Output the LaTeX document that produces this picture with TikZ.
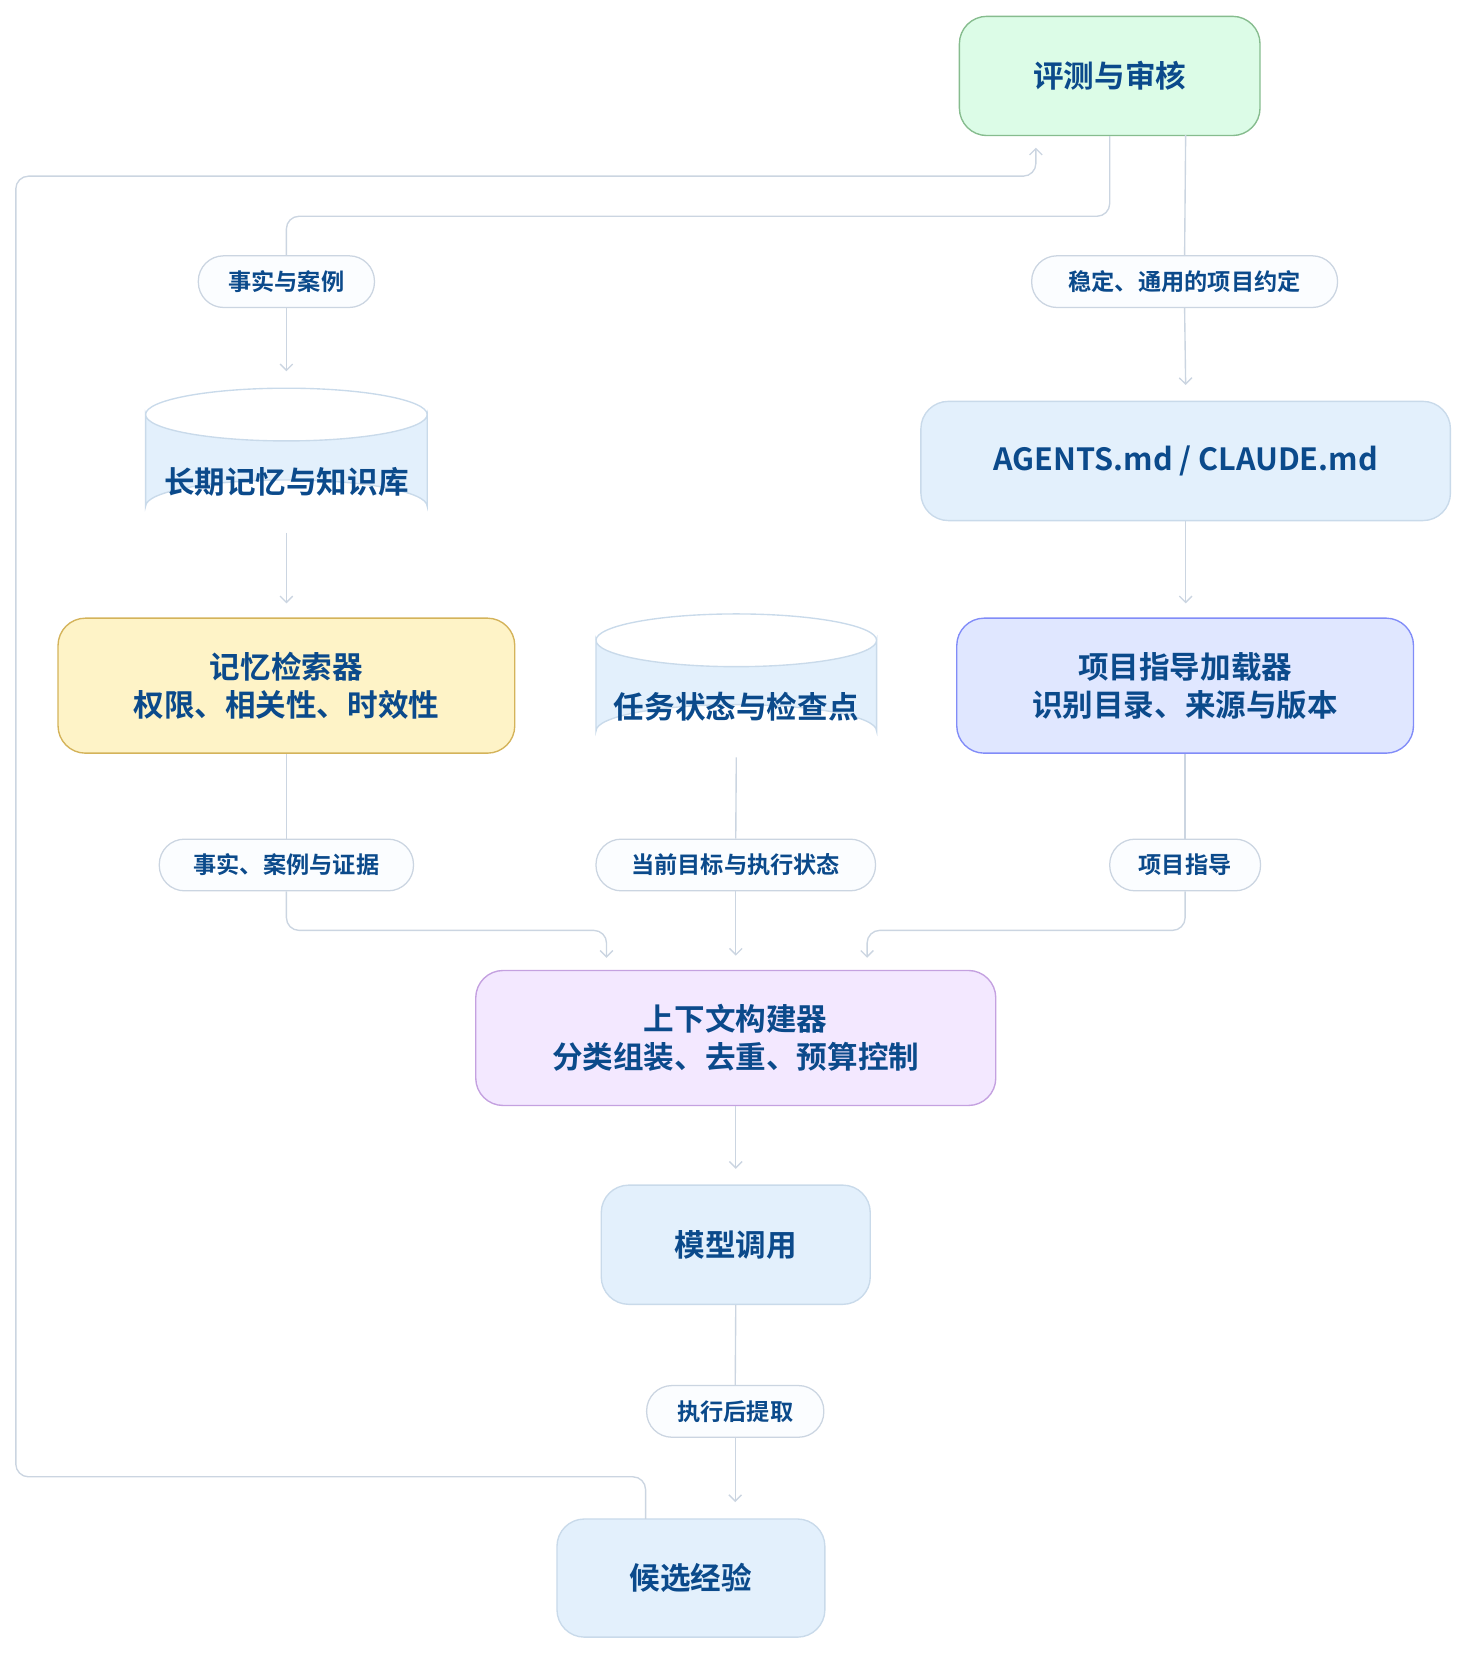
\documentclass[tikz,border=0pt]{standalone}
\usepackage{fontspec}
\setmainfont{Noto Sans CJK SC}[BoldFont={* Bold}]
\usetikzlibrary{arrows.meta}
\definecolor{edge}{HTML}{CBD5E1}
\definecolor{txt}{HTML}{0B4A8B}
\definecolor{bfill}{HTML}{E3F0FC}
\definecolor{bline}{HTML}{C9DAEA}
\tikzset{
  box/.style={draw=bline, fill=bfill, line width=1.3pt, rounded corners=26pt, font=\fontsize{29}{36}\selectfont\bfseries, text=txt, align=center, inner sep=0pt},
  lab/.style={draw=edge, fill=white!85!bfill, line width=1.2pt, rounded corners=24pt, minimum height=49pt, font=\fontsize{22}{26}\selectfont\bfseries, text=txt, inner sep=0pt},
  ed/.style={draw=edge, line width=1.3pt, rounded corners=12pt},
  ar/.style={ed, -{Straight Barb[length=6pt,width=12pt,line width=1.3pt]}},
  ttl/.style={font=\fontsize{29}{36}\selectfont\bfseries, text=txt, align=center}
}
\newcommand{\cyl}[5]{% left right top bottom ry
  \filldraw[draw=bline, fill=bfill, line width=1.3pt] (#1,#3+#5) -- (#1,#4-#5) arc[start angle=180,end angle=360,x radius={(#2-#1)/2},y radius=#5] -- (#2,#3+#5) arc[start angle=0,end angle=180,x radius={(#2-#1)/2},y radius=#5] -- cycle;
  \draw[draw=bline, line width=1.3pt] (#1,#3+#5) arc[start angle=180,end angle=360,x radius={(#2-#1)/2},y radius=#5];
}
\begin{document}
\begin{tikzpicture}[x=1pt,y=-1pt]
\useasboundingbox (0,0) rectangle (1390,1568);
% nodes
\node[box, draw=green!50!gray!70, draw={rgb,255:red,134;green,188;blue,142}, fill={rgb,255:red,220;green,252;blue,231}, minimum width=285pt, minimum height=113pt] (eval) at (1052,72) {评测与审核};
\node[box, minimum width=502pt, minimum height=113pt] (agents) at (1124,437) {AGENTS.md / CLAUDE.md};
\node[box, draw={rgb,255:red,212;green,179;blue,90}, fill={rgb,255:red,254;green,243;blue,199}, minimum width=433pt, minimum height=128pt] (ret) at (271.5,650) {记忆检索器\\权限、相关性、时效性};
\node[box, draw={rgb,255:red,129;green,140;blue,248}, fill={rgb,255:red,224;green,231;blue,255}, minimum width=433pt, minimum height=128pt] (load) at (1123.5,650) {项目指导加载器\\识别目录、来源与版本};
\node[box, draw={rgb,255:red,196;green,161;blue,224}, fill={rgb,255:red,243;green,232;blue,255}, minimum width=493pt, minimum height=128pt] (ctx) at (697.5,984) {上下文构建器\\分类组装、去重、预算控制};
\node[box, minimum width=255pt, minimum height=113pt] (model) at (697.5,1180) {模型调用};
\node[box, minimum width=254pt, minimum height=112pt] (cand) at (655,1496) {候选经验};
% cylinders
\cyl{138}{405}{368}{505}{25}
\node[ttl] (mem) at (271.5,457) {长期记忆与知识库};
\coordinate (memtop) at (271.5,368);
\coordinate (membot) at (271.5,505);
\cyl{565}{831}{582}{718}{25}
\node[ttl] (task) at (698,670) {任务状态与检查点};
\coordinate (taskbot) at (698,718);
% labels
\node[lab, minimum width=167pt] (l1) at (271.5,267) {事实与案例};
\node[lab, minimum width=290pt] (l2) at (1123,267) {稳定、通用的项目约定};
\node[lab, minimum width=241pt] (l3) at (271.5,820) {事实、案例与证据};
\node[lab, minimum width=265pt] (l4) at (697.5,820) {当前目标与执行状态};
\node[lab, minimum width=143pt] (l5) at (1123.5,820) {项目指导};
\node[lab, minimum width=168pt] (l6) at (697,1338) {执行后提取};
% edges
\draw[ed] (eval.south) ++(0,0) -- (1052,205) -- (271.5,205) -- (l1.north);
\draw[ar] (l1.south) -- (271.5,352);
\draw[ed] (1124,128) -- (l2.north);
\draw[ar] (l2.south) -- (1124,365);
\draw[ar] (membot) -- (271.5,572);
\draw[ar] (agents.south) -- (1124,572);
\draw[ed] (ret.south) -- (l3.north);
\draw[ar] (l3.south) -- (271.5,882) -- (575,882) -- (575,908);
\draw[ed] (taskbot) -- (l4.north);
\draw[ar] (l4.south) -- (697.5,906);
\draw[ed] (load.south) -- (l5.north);
\draw[ar] (l5.south) -- (1123.5,882) -- (822,882) -- (822,908);
\draw[ar] (ctx.south) -- (697.5,1108);
\draw[ed] (model.south) -- (l6.north);
\draw[ar] (l6.south) -- (697,1424);
\draw[ar] (612,1440) -- (612,1400) -- (15,1400) -- (15,167) -- (982,167) -- (982,140);
\end{tikzpicture}
\end{document}
